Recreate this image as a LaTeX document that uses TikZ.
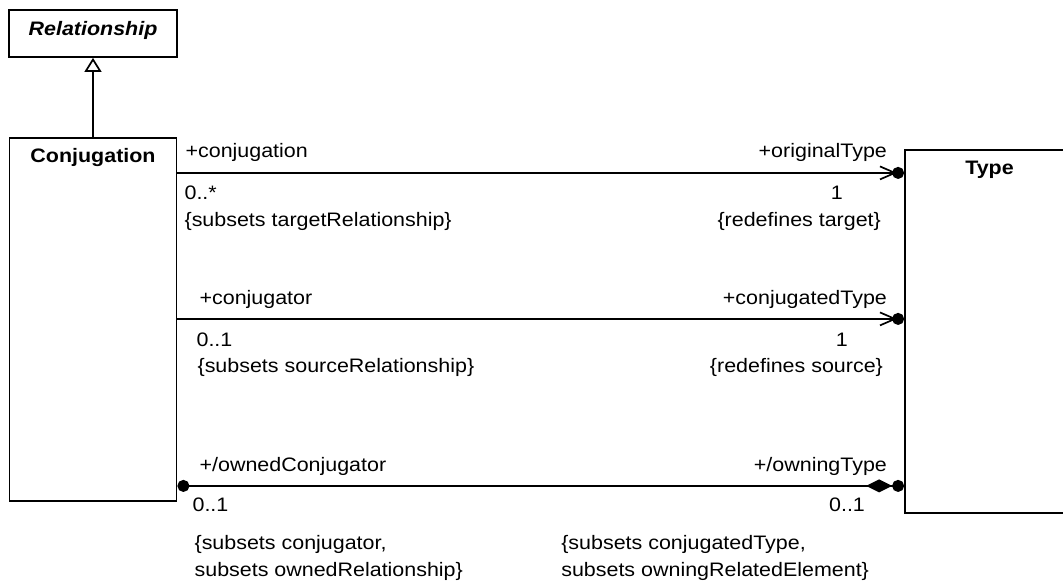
\documentclass[tikz,border=0pt]{standalone}
\usepackage{fontspec}
\setmainfont[FakeStretch=1.1]{Liberation Sans}
\usetikzlibrary{arrows.meta,positioning}

\begin{document}
\begin{tikzpicture}[x=1pt,y=-1pt,node distance=79pt,
    font=\fontsize{19.5}{27}\selectfont,
    classbox/.style={draw,line width=1.8pt,inner sep=0pt},
    title/.style={font=\fontsize{19.5}{27}\selectfont\bfseries,anchor=base},
    lbl/.style={inner sep=0pt},
    lblw/.style={lbl,anchor=base west},
    lble/.style={lbl,anchor=base east},
    assoc/.style={line width=1.7pt},
    generalization/.style={line width=1.7pt,-{Triangle[open,length=14pt,width=17pt,fill=white]}},
    navigable/.style={-{Straight Barb[length=15pt,width=13pt,sep=-5pt]Circle[length=12pt]}},
    composite/.style={{Circle[length=12pt]}-{Diamond[length=26pt,width=13pt]Circle[length=12pt]}}]

\useasboundingbox (0,0) rectangle (1063,582);

% classes
\node[classbox,minimum width=168pt,minimum height=47pt] (rel) at (93,33.5) {};
\node[title] (rel-name) at ([yshift=-26pt]rel.north) {\itshape Relationship};

\node[classbox,minimum width=167pt,minimum height=363pt,below=of rel] (conj) {};
\node[title] (conj-name) at ([yshift=-26pt]conj.north) {Conjugation};

\node[classbox,minimum width=169pt,minimum height=363pt] (type) at (989.5,331.5) {};
\node[title] (type-name) at ([yshift=-25pt]type.north) {Type};

\draw[generalization] (conj) -- (rel);

% conjugation / originalType
\draw[assoc,navigable] ([yshift=-36pt]conj.north east) coordinate (a1)
    -- (a1 -| type.west) coordinate (b1);
\node[lblw] (a1-name) at ([shift={(8pt,15pt)}]a1) {+conjugation};
\node[lblw] (a1-mult) at ([shift={(7pt,-27pt)}]a1) {0..*};
\node[lblw] (a1-con) at ([shift={(7pt,-54pt)}]a1) {\{subsets targetRelationship\}};
\node[lble] (b1-name) at ([shift={(-17pt,15pt)}]b1) {+originalType};
\node[lble] (b1-mult) at ([shift={(-61pt,-27pt)}]b1) {1};
\node[lble] (b1-con) at ([shift={(-23pt,-54pt)}]b1) {\{redefines target\}};

% conjugator / conjugatedType
\draw[assoc,navigable] ([yshift=-182pt]conj.north east) coordinate (a2)
    -- (a2 -| type.west) coordinate (b2);
\node[lblw] (a2-name) at ([shift={(22pt,14pt)}]a2) {+conjugator};
\node[lblw] (a2-mult) at ([shift={(19pt,-28pt)}]a2) {0..1};
\node[lblw] (a2-con) at ([shift={(20pt,-54pt)}]a2) {\{subsets sourceRelationship\}};
\node[lble] (b2-name) at ([shift={(-17pt,14pt)}]b2) {+conjugatedType};
\node[lble] (b2-mult) at ([shift={(-56pt,-28pt)}]b2) {1};
\node[lble] (b2-con) at ([shift={(-21pt,-54pt)}]b2) {\{redefines source\}};

% ownedConjugator / owningType
\draw[assoc,composite] ([yshift=-349pt]conj.north east) coordinate (a3)
    -- (a3 -| type.west) coordinate (b3);
\node[lblw] (a3-name) at ([shift={(22pt,14pt)}]a3) {+/ownedConjugator};
\node[lblw] (a3-mult) at ([shift={(15pt,-26pt)}]a3) {0..1};
\node[lblw,align=left] (a3-con) at ([shift={(17pt,-91pt)}]a3)
    {\{subsets conjugator,\\subsets ownedRelationship\}};
\node[lble] (b3-name) at ([shift={(-17pt,14pt)}]b3) {+/owningType};
\node[lble] (b3-mult) at ([shift={(-39pt,-26pt)}]b3) {0..1};
\node[lblw,align=left] (b3-con) at ([shift={(-343pt,-91pt)}]b3)
    {\{subsets conjugatedType,\\subsets owningRelatedElement\}};

\end{tikzpicture}
\end{document}
